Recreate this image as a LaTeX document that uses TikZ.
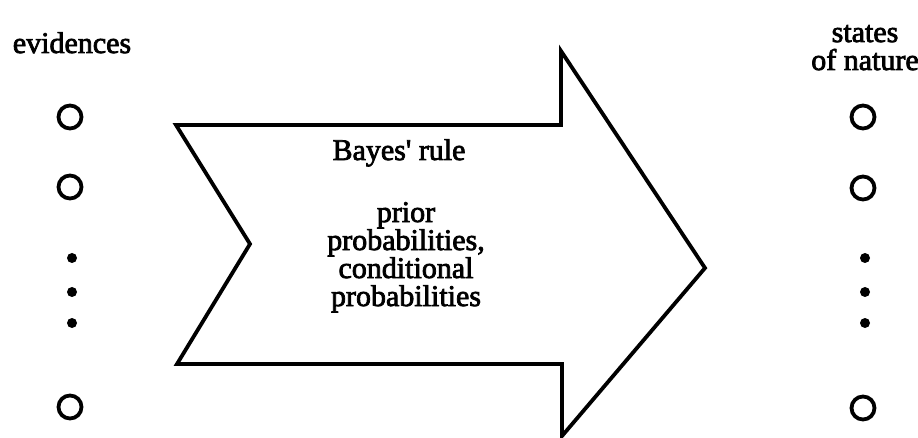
\documentclass[tikz,border=0pt]{standalone}
\usepackage{fontspec}
\setmainfont{Liberation Serif}[FakeBold=2.5]
\begin{document}
\begin{tikzpicture}[x=1pt,y=-1pt,
  lbl/.style={font=\fontsize{30}{28}\selectfont, inner sep=0pt, align=center},
  ring/.style={circle, draw, line width=3.8pt, minimum size=23pt, inner sep=0pt},
  bullet/.style={circle, fill, minimum size=10pt, inner sep=0pt},
  bigarrow/.style={draw, line width=3.8pt, line join=miter}]
\useasboundingbox (0,0) rectangle (918,438);
% big arrow
\draw[bigarrow] (176,125) -- (561,125) -- (561,51) -- (705,268) -- (562,436)
  -- (562,364) -- (177,364) -- (250,244) -- cycle;
% texts
\node[lbl, anchor=base] (ev) at (72,53) {evidences};
\node[lbl, anchor=base] (st) at (865,70) {states\\of nature};
\node[lbl, anchor=base] (br) at (399,160) {Bayes\textquotesingle{} rule};
\node[lbl, anchor=base] (pr) at (406,306) {prior\\probabilities,\\conditional\\probabilities};
% left column
\node[ring] (e1) at (70,117) {};
\node[ring] (e2) at (70,187) {};
\node[bullet] (ed1) at (72,258) {};
\node[bullet] (ed2) at (72,292) {};
\node[bullet] (ed3) at (72,323) {};
\node[ring] (en) at (70,407) {};
% right column
\node[ring] (s1) at (863,117) {};
\node[ring] (s2) at (863,188) {};
\node[bullet] (sd1) at (865,258) {};
\node[bullet] (sd2) at (865,292) {};
\node[bullet] (sd3) at (865,323) {};
\node[ring] (sn) at (863,408) {};
\end{tikzpicture}
\end{document}
